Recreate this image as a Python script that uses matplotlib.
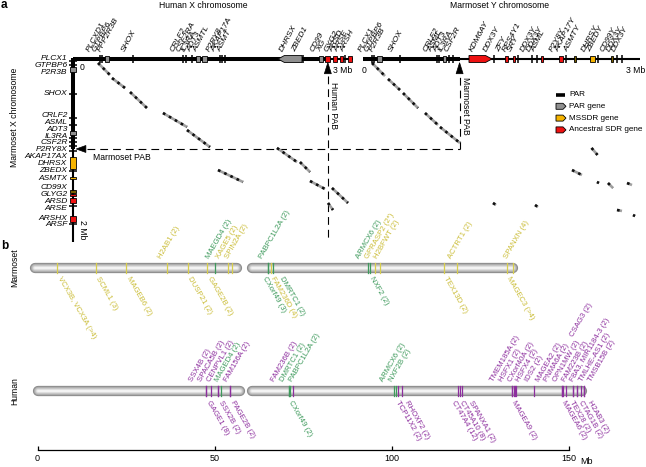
import matplotlib
matplotlib.use('Agg')
import matplotlib.pyplot as plt
from matplotlib.patches import Polygon

plt.rcParams['font.family'] = ['Liberation Sans', 'DejaVu Sans']

# ======================= DATA =======================
# Panel a : gene features (Mb from the telomere)
# type: t = small gene tick, g = PAR gene, r = ancestral SDR gene, o = MSSDR gene,
#       d = dark MSSDR gene, gl = PAR gene arrow (left), rr = SDR gene arrow (right)
hx_names = ['PLCXD1', 'GTPBP6', 'PPP2R3B', 'SHOX', 'CRLF2', 'CSF2RA', 'IL3RA', 'ADT3', 'ASMTL',
            'P2RY8', 'AKAP17A', 'ASMT', 'DHRSX', 'ZBED1', 'CD99', 'XG', 'GYG2', 'ARSD', 'ARSE', 'ARSH']
hx_start = [0.290, 0.315, 0.348, 0.652, 1.196, 1.228, 1.293, 1.337, 1.402, 1.598, 1.620, 1.652,
            2.228, 2.495, 2.674, 2.739, 2.826, 2.902, 2.957, 2.989]
hx_end = [0.290, 0.315, 0.391, 0.652, 1.196, 1.228, 1.293, 1.380, 1.457, 1.598, 1.620, 1.652,
          2.489, 2.495, 2.717, 2.793, 2.870, 2.935, 2.957, 3.033]
hx_type = ['t', 't', 'g', 't', 't', 't', 't', 'g', 'g', 't', 't', 't', 'gl', 't', 'g', 'r', 'r', 'r', 't', 'r']
hx_length = 3.04
hx_pab = 2.77

my_names = ['PLCX1', 'GTPBP6', 'P2R3B', 'SHOX', 'CRLF2', 'ASML', 'ADT3', 'IL3RA', 'CSF2R', 'KDM6AY',
            'DDX3Y', 'ZFY', 'RPS4Y1', 'SRY', 'DDX3Y', 'DDX3Y', 'ASML', 'P2Y8Y', 'AKAP17Y', 'ASMTY',
            'DHRSY', 'ZBEDY', 'CD99Y', 'DDX3Y', 'DDX3Y']
my_start = [0.098, 0.120, 0.152, 0.402, 0.804, 0.826, 0.870, 0.935, 0.978, 1.152, 1.424, 1.543, 1.630,
            1.685, 1.837, 1.891, 1.935, 2.130, 2.207, 2.304, 2.467, 2.554, 2.707, 2.761, 2.815]
my_end = [0.098, 0.120, 0.207, 0.402, 0.804, 0.826, 0.902, 0.935, 0.978, 1.402, 1.424, 1.576, 1.652,
          1.685, 1.837, 1.891, 1.957, 2.174, 2.207, 2.304, 2.522, 2.554, 2.707, 2.761, 2.815]
my_type = ['t', 't', 'g', 't', 't', 't', 'g', 't', 't', 'rr', 't', 'r', 'r', 't', 't', 't', 'r', 'r', 't', 'd',
           'o', 't', 'd', 't', 't']
my_length = 3.01
my_pab = 1.05

mx_names = ['PLCX1', 'GTPBP6', 'P2R3B', 'SHOX', 'CRLF2', 'ASML', 'ADT3', 'IL3RA', 'CSF2R', 'P2RY8X',
            'AKAP17AX', 'DHRSX', 'ZBEDX', 'ASMTX', 'CD99X', 'GLYG2', 'ARSD', 'ARSE', 'ARSHX', 'ARSF']
mx_start = [0.022, 0.065, 0.087, 0.380, 0.641, 0.717, 0.783, 0.859, 0.902, 0.946, 1.000, 1.065, 1.217,
            1.283, 1.430, 1.467, 1.511, 1.598, 1.707, 1.793]
mx_end = [0.022, 0.065, 0.141, 0.380, 0.641, 0.717, 0.826, 0.859, 0.902, 0.946, 1.000, 1.196, 1.217,
          1.304, 1.450, 1.489, 1.565, 1.598, 1.772, 1.793]
mx_type = ['t', 't', 'g', 't', 't', 't', 'g', 't', 't', 't', 't', 'o', 't', 'o', 'd', 'r', 'r', 't', 'r', 't']
mx_length = 1.99
mx_pab = 0.978

# dot-plot alignments (Mb): human X vs marmoset X
hx_mx_x0 = [0.272, 0.424, 0.620, 0.978, 1.239, 1.576, 2.217, 2.467, 2.576, 2.815, 2.772]
hx_mx_y0 = [0.043, 0.207, 0.359, 0.587, 0.772, 1.207, 0.967, 1.120, 1.326, 1.402, 1.565]
hx_mx_x1 = [0.402, 0.565, 0.804, 1.239, 1.489, 1.848, 2.435, 2.576, 2.739, 2.989, 2.826]
hx_mx_y1 = [0.174, 0.315, 0.533, 0.739, 0.957, 1.337, 1.120, 1.228, 1.413, 1.565, 1.641]
# marmoset Y vs marmoset X
my_mx_x0 = [0.098, 0.272, 0.435, 0.674, 0.837, 1.413, 1.870, 2.484, 2.272, 2.543, 2.663, 2.870, 2.761, 2.935]
my_mx_y0 = [0.043, 0.217, 0.370, 0.587, 0.739, 1.565, 1.587, 0.967, 1.207, 1.337, 1.348, 1.348, 1.641, 1.696]
my_mx_x1 = [0.239, 0.402, 0.598, 0.815, 1.054, 1.446, 1.902, 2.549, 2.380, 2.565, 2.717, 2.924, 2.815, 2.957]
my_mx_y1 = [0.185, 0.337, 0.533, 0.717, 0.913, 1.587, 1.609, 1.043, 1.261, 1.348, 1.402, 1.370, 1.652, 1.707]

legend_labels = ['PAR', 'PAR gene', 'MSSDR gene', 'Ancestral SDR gene']

# Panel b : chromosome arms (Mb) and multicopy genes
marm_arms = [(-2.1, 57.8), (59.2, 135.7)]
human_arms = [(-1.3, 58.6), (59.2, 155.2)]

marm_above_names = ['H2AB1 (2)', 'MAEGD4 (2)', 'XAGE5 (2)', 'SPIN2A (2)', 'PABPC1L2A (2)',
                    'ARMCX6 (2)', 'GPRASP2 (2*)', 'H2BFWT (2)', 'ACTRT1 (2)', 'SPANXN (4)']
marm_above_pos = [36.6, 50.1, 53.8, 54.9, 65.1, 93.4, 95.3, 96.8, 118.5, 134.3]
marm_above_col = ['y', 'g', 'y', 'y', 'g', 'g', 'y', 'y', 'y', 'y']

marm_below_names = ['VCX3B, VCX3A (>4)', 'SCML1 (3)', 'MAGEB6 (2)', 'DUSP21 (2)', 'GAGE2B (2)',
                    'CXorf49 (3)', 'FAM236D (4)', 'DMRTC1 (2)', 'NXF2 (2)', 'TEX13D (2)', 'MAGEC3 (>4)']
marm_below_pos = [5.5, 16.5, 25.0, 42.5, 47.9, 65.1, 66.0, 66.5, 93.9, 114.8, 132.6]
marm_below_col = ['y', 'y', 'y', 'y', 'y', 'g', 'y', 'g', 'g', 'y', 'y']

human_above_names = ['SSX4B (2)', 'SPACA5B (2)', 'CENPVL1 (2)', 'MAGED4 (2)', 'FAM156A (2)',
                     'FAM236B (2)', 'DMRTC1 (2)', 'PABPC1L2A (2)', 'ARMCX6 (2)', 'NXF2B (2)',
                     'TMEM185A (2)', 'HSFX1 (2)', 'CXorf40A (2)', 'HSFX4 (2)', 'IDS2 (2)',
                     'MAGEA2 (2)', 'PNMA6A (2)', 'OPN1MW (2)', 'FAM223B (2)', 'F8A3, MIR1184-3 (2)',
                     'TMLHE-AS1 (2)', 'TMSB15B (2)']
human_above_pos = [47.6, 49.0, 51.0, 51.8, 54.4, 72.2, 71.0, 71.2, 100.7, 101.3, 134.0, 134.6, 134.9,
                   135.2, 140.3, 148.2, 148.5, 149.3, 151.3, 152.4, 153.5, 154.4]
human_above_col = ['p', 'p', 'p', 'g', 'p', 'p', 'g', 'g', 'g', 'g', 'p', 'p', 'p', 'p', 'p',
                   'p', 'p', 'p', 'p', 'p', 'p', 'p']
human_top_names = ['CSAG3 (2)']
human_top_pos = [152.9]

human_below_names = ['GAGE1 (8)', 'SSX2B (2)', 'PAGE2B (2)', 'CXorf49 (2)', 'TCP11X2 (2)', 'RHOXF2 (2)',
                     'CT47A4 (12)', 'CT45A10 (8)', 'SPANXA1 (2)', 'MAGEA9 (2)', 'MAGEA6 (2)',
                     'TEX28 (2)', 'CTAG1B (2)', 'H2AB3 (2)']
human_below_pos = [47.6, 51.0, 54.4, 71.0, 101.8, 102.9, 118.8, 119.3, 119.9, 134.0, 148.2, 151.3,
                   152.4, 154.4]
human_below_col = ['p', 'p', 'p', 'g', 'p', 'p', 'p', 'p', 'p', 'p', 'p', 'p', 'p', 'p']

axis_ticks = [0, 50, 100, 150]

# ======================= STYLE =======================
FEAT_COL = {'g': '#8f8f8f', 'r': '#ee1111', 'o': '#f5b300', 'd': '#7a6000',
            'gl': '#8f8f8f', 'rr': '#ee1111'}
LINE_COL = {'y': '#d8ce4c', 'g': '#3e9a5c', 'p': '#8d2f9e'}
TEXT_COL = {'y': '#cbbd38', 'g': '#3e9a5c', 'p': '#8d2f9e'}

W, H = 646, 467
fig = plt.figure(figsize=(W / 100, H / 100), dpi=100)


def spread(pos, gap):
    groups = []
    for p in pos:
        groups.append([p, 1, p])
        while len(groups) > 1:
            a, b = groups[-2], groups[-1]
            if a[0] + a[1] * gap > b[0] + 1e-9:
                n = a[1] + b[1]
                s = a[2] + b[2]
                groups[-2:] = [[s / n - (n - 1) * gap / 2, n, s]]
            else:
                break
    out = []
    for st, n, s in groups:
        out += [st + k * gap for k in range(n)]
    return out


# ======================= PANEL A =======================
PXMB = 92.0
X0, Y0 = 73, 59
axa = fig.add_axes([0, 1 - 250 / H, 1, 250 / H])
axa.set_xlim(-X0 / PXMB, (W - X0) / PXMB)
axa.set_ylim((250 - Y0) / PXMB, -Y0 / PXMB)
axa.axis('off')
my_off = (363 - X0) / PXMB


def px(xp):
    return (xp - X0) / PXMB


def py(yp):
    return (yp - Y0) / PXMB


HH = 0.038


def feature(ax, s, e, kind, c0, vertical=False):
    def P(pts):
        return [(b, a) if vertical else (a, b) for a, b in pts]
    if kind == 't':
        xs, ys = [s, s], [c0 - 0.045, c0 + 0.045]
        if vertical:
            xs, ys = ys, xs
        ax.plot(xs, ys, color='k', lw=1.1, solid_capstyle='butt', zorder=4)
        return
    col = FEAT_COL[kind]
    if kind in ('gl', 'rr'):
        head = 0.07
        if kind == 'gl':
            pts = [(s, c0), (s + head, c0 - HH), (e, c0 - HH), (e, c0 + HH), (s + head, c0 + HH)]
        else:
            pts = [(e, c0), (e - head, c0 - HH), (s, c0 - HH), (s, c0 + HH), (e - head, c0 + HH)]
        ax.add_patch(Polygon(P(pts), closed=True, fc=col, ec='k', lw=0.6, zorder=4))
        return
    w = max(e - s, 0.025)
    m = (s + e) / 2
    pts = [(m - w / 2, c0 - HH), (m + w / 2, c0 - HH), (m + w / 2, c0 + HH), (m - w / 2, c0 + HH)]
    ax.add_patch(Polygon(P(pts), closed=True, fc=col, ec='k', lw=0.6, zorder=4))


# chromosome backbones
axa.plot([0, hx_pab], [0, 0], color='k', lw=2.9, solid_capstyle='butt', zorder=2)
axa.plot([hx_pab, hx_length], [0, 0], color='k', lw=1.5, solid_capstyle='butt', zorder=2)
axa.plot([my_off, my_off + my_pab], [0, 0], color='k', lw=2.9, solid_capstyle='butt', zorder=2)
axa.plot([my_off + my_pab, my_off + my_length], [0, 0], color='k', lw=1.5, solid_capstyle='butt', zorder=2)
axa.plot([0, 0], [-0.015, mx_pab], color='k', lw=2.9, solid_capstyle='butt', zorder=2)
axa.plot([0, 0], [mx_pab, mx_length], color='k', lw=1.5, solid_capstyle='butt', zorder=2)

for s, e, k in zip(hx_start, hx_end, hx_type):
    feature(axa, s, e, k, 0)
for s, e, k in zip(my_start, my_end, my_type):
    feature(axa, s + my_off, e + my_off, k, 0)
for s, e, k in zip(mx_start, mx_end, mx_type):
    feature(axa, s, e, k, 0, vertical=True)

# gene labels
lab_kw = dict(rotation=62, rotation_mode='anchor', ha='left', va='bottom',
              fontsize=6.0, style='italic')
hx_c = [(s + e) / 2 for s, e in zip(hx_start, hx_end)]
for n, x in zip(hx_names, spread(hx_c, 0.058)):
    axa.text(x - 0.065, -0.068, n, **lab_kw)
my_c = [(s + e) / 2 + my_off for s, e in zip(my_start, my_end)]
for n, x in zip(my_names, spread(my_c, 0.058)):
    axa.text(x - 0.065, -0.068, n, **lab_kw)
mx_c = [(s + e) / 2 for s, e in zip(mx_start, mx_end)]
for n, y in zip(mx_names, spread(mx_c, 0.075)):
    axa.text(-0.06, y, n, ha='right', va='center', fontsize=6.0, style='italic')

# dot plot
for xa, ya, xb, yb in zip(hx_mx_x0, hx_mx_y0, hx_mx_x1, hx_mx_y1):
    axa.plot([xa, xb], [ya, yb], color='#a0a0a0', lw=1.9, solid_capstyle='butt', zorder=3)
    axa.plot([xa, xb], [ya, yb], color='#111111', lw=1.9, ls=(0, (1.0, 1.6)), zorder=3)
for xa, ya, xb, yb in zip(my_mx_x0, my_mx_y0, my_mx_x1, my_mx_y1):
    axa.plot([xa + my_off, xb + my_off], [ya, yb], color='#a0a0a0', lw=1.9, solid_capstyle='butt', zorder=3)
    axa.plot([xa + my_off, xb + my_off], [ya, yb], color='#111111', lw=1.9, ls=(0, (1.0, 1.6)), zorder=3)

# PAB markers
dash = (0, (7, 4.5))
axa.plot([hx_pab, hx_pab], [0.19, mx_length], color='k', lw=0.8, ls=dash, zorder=1)
axa.plot([0.15, my_off + my_pab], [mx_pab, mx_pab], color='k', lw=0.8, ls=dash, zorder=1)
axa.plot([my_off + my_pab, my_off + my_pab], [mx_pab, 0.19], color='k', lw=0.8, ls=dash, zorder=1)
for xx in (hx_pab, my_off + my_pab):
    axa.add_patch(Polygon([(xx, 0.04), (xx - 0.038, 0.16), (xx + 0.038, 0.16)], closed=True,
                          fc='k', ec='k', lw=0.5, zorder=5))
axa.add_patch(Polygon([(0.035, mx_pab), (0.14, mx_pab - 0.038), (0.14, mx_pab + 0.038)], closed=True,
                      fc='k', ec='k', lw=0.5, zorder=5))
axa.text(hx_pab + 0.065, 0.25, 'Human PAB', rotation=270, ha='center', va='top', fontsize=6.2)
axa.text(my_off + my_pab + 0.065, 0.2, 'Marmoset PAB', rotation=270, ha='center', va='top', fontsize=6.2)
axa.text(0.22, mx_pab + 0.09, 'Marmoset PAB', ha='left', va='center', fontsize=6.2)

# scale texts
axa.text(0.07, 0.09, '0', ha='left', va='center', fontsize=6.2)
axa.text(hx_length, 0.12, '3 Mb', ha='right', va='center', fontsize=6.2)
axa.text(my_off - 0.01, 0.12, '0', ha='left', va='center', fontsize=6.2)
axa.text(my_off + my_length + 0.06, 0.12, '3 Mb', ha='right', va='center', fontsize=6.2)
axa.text(0.1, mx_length - 0.13, '2 Mb', rotation=270, ha='center', va='center', fontsize=6.2)

# titles
axa.text(px(203), py(6), 'Human X chromosome', ha='center', va='center', fontsize=6.2)
axa.text(px(500), py(6), 'Marmoset Y chromosome', ha='center', va='center', fontsize=6.2)
axa.text(px(15), py(117), 'Marmoset X chromosome', rotation=90, ha='center', va='center', fontsize=6.2)
axa.text(px(1), py(5), 'a', ha='left', va='center', fontsize=8.5, fontweight='bold')

# legend
leg_cols = [None, FEAT_COL['g'], FEAT_COL['o'], FEAT_COL['r']]
for i, (lab, col) in enumerate(zip(legend_labels, leg_cols)):
    yy = py(94.5 + i * 11.8)
    if col is None:
        axa.plot([px(556), px(565)], [yy, yy], color='k', lw=2.6, solid_capstyle='butt')
    else:
        h = 3 / PXMB
        x1, x2, xh = px(556), px(566), px(563)
        axa.add_patch(Polygon([(x1, yy - h), (xh, yy - h), (x2, yy), (xh, yy + h), (x1, yy + h)],
                              closed=True, fc=col, ec='k', lw=0.6))
    axa.text(px(569), yy, lab, ha='left', va='center', fontsize=5.9)

# ======================= PANEL B =======================
BX0, BPX = 37.5, 3.54
ROWPX = 123.0
axb = fig.add_axes([0, (H - 450) / H, 1, 200 / H])
axb.set_xlim(-BX0 / BPX, (W - BX0) / BPX)
axb.set_ylim((450 - 268) / ROWPX, (250 - 268) / ROWPX)
for sp in ('top', 'left', 'right'):
    axb.spines[sp].set_visible(False)
axb.spines['bottom'].set_bounds(0, 150)
axb.spines['bottom'].set_linewidth(0.9)
axb.set_yticks([])
axb.set_xticks(axis_ticks)
axb.set_xticklabels([str(t) for t in axis_ticks])
axb.tick_params(axis='x', direction='in', length=3, width=0.9, labelsize=6.5, pad=3)
axb.text(153.2, -11.5 / 200, 'Mb', transform=axb.get_xaxis_transform(), ha='left', va='center',
         fontsize=6.5)

BAR_LW = 7.4
cap = (BAR_LW / 72 * 100 / 2) / BPX
bar_layers = [(7.4, '#8c8c8c'), (6.0, '#a9a9a9'), (4.6, '#c4c4c4'), (3.0, '#dedede'), (1.4, '#f4f4f4')]


def chrom(row, arms):
    for a, b in arms:
        for lw, c in bar_layers:
            axb.plot([a + cap, b - cap], [row, row], color=c, lw=lw, solid_capstyle='round', zorder=2)


chrom(0, marm_arms)
chrom(1, human_arms)


def genes(row, pos, cols):
    for p, c in zip(pos, cols):
        axb.plot([p, p], [row - 0.041, row + 0.041], color=LINE_COL[c], lw=0.9, zorder=3)


genes(0, marm_above_pos, marm_above_col)
genes(0, marm_below_pos, marm_below_col)
genes(1, human_above_pos, human_above_col)
genes(1, human_below_pos, human_below_col)

GAP = 2.45
bfs = 5.6


def above(row_y, names, pos, cols, shift):
    for n, x, c in zip(names, spread(pos, GAP), cols):
        axb.text(x + shift, row_y, n, rotation=60, rotation_mode='anchor', ha='left', va='bottom',
                 fontsize=bfs, color=TEXT_COL[c])


def below(row_y, names, pos, cols, shift):
    for n, x, c in zip(names, spread(pos, GAP), cols):
        axb.text(x + shift, row_y, n, rotation=-60, rotation_mode='anchor', ha='left', va='top',
                 fontsize=bfs, color=TEXT_COL[c])


above(-0.065, marm_above_names, marm_above_pos, marm_above_col, -1.2)
below(0.065, marm_below_names, marm_below_pos, marm_below_col, 1.3)
above(1 - 0.065, human_above_names, human_above_pos, human_above_col, -1.6)
above(1 - 0.43, human_top_names, human_top_pos, ['p'], -1.0)
below(1 + 0.072, human_below_names, human_below_pos, human_below_col, 1.3)

axb.text(-6.4, 0, 'Marmoset', rotation=90, ha='center', va='center', fontsize=6.2)
axb.text(-6.4, 1, 'Human', rotation=90, ha='center', va='center', fontsize=6.2)
axb.text(-10.2, -0.18, 'b', ha='left', va='center', fontsize=8.5, fontweight='bold')

fig.savefig('out.png', dpi=100)
